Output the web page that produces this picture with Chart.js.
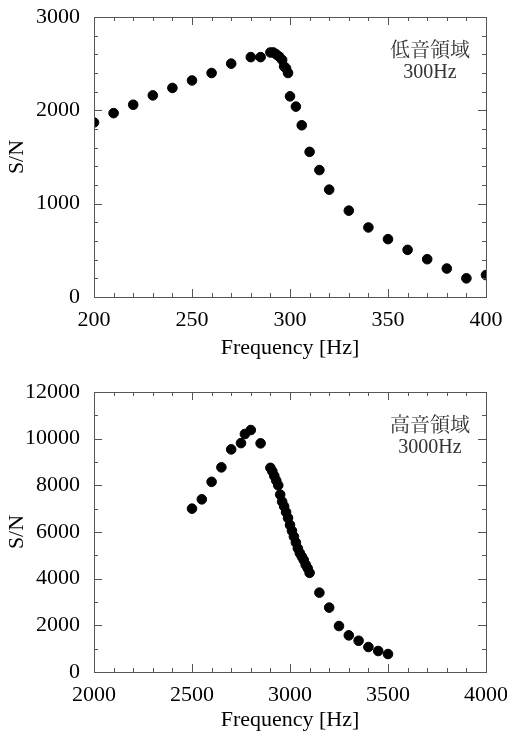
<!DOCTYPE html>
<html>
<head>
<meta charset="utf-8">
<script src="https://cdn.jsdelivr.net/npm/chart.js@4.4.0/dist/chart.umd.min.js"></script>
<style>
  body { margin: 0; background: #fff; }
  canvas { display: block; }
</style>
</head>
<body>
<canvas id="low" width="507" height="367"></canvas>
<canvas id="high" width="507" height="368"></canvas>
<script>
// low-range sweep (300Hz)
const lowFreq = [200, 210, 220, 230, 240, 250, 260, 270, 280, 285, 290, 291.5, 293, 294.5, 296, 297, 298, 299,
  300, 303, 306, 310, 315, 320, 330, 340, 350, 360, 370, 380, 390, 400];
const lowSN = [1870, 1970, 2060, 2160, 2240, 2320, 2400, 2500, 2570, 2570, 2620, 2620, 2600, 2575, 2540, 2470, 2450, 2400,
  2150, 2040, 1840, 1555, 1360, 1150, 925, 745, 620, 505, 405, 305, 200, 235];

// high-range sweep (3000Hz)
const highFreq = [2500, 2550, 2600, 2650, 2700, 2750, 2770, 2800, 2850,
  2900, 2910, 2920, 2930, 2940, 2950, 2960, 2970, 2980, 2990, 3000,
  3010, 3020, 3030, 3040, 3050, 3060, 3070, 3080, 3090, 3100,
  3150, 3200, 3250, 3300, 3350, 3400, 3450, 3500];
const highSN = [7000, 7400, 8150, 8770, 9540, 9810, 10200, 10370, 9800,
  8750, 8600, 8400, 8200, 8000, 7600, 7300, 7100, 6850, 6600, 6300,
  6050, 5800, 5550, 5300, 5100, 4950, 4800, 4600, 4450, 4250,
  3400, 2760, 1970, 1570, 1340, 1070, 900, 770];

const lowXTicks = { min: 200, max: 400, step: 50, minor: 10 };
const lowYTicks = { min: 0, max: 3000, step: 1000, minor: 200 };
const highXTicks = { min: 2000, max: 4000, step: 500, minor: 100 };
const highYTicks = { min: 0, max: 12000, step: 2000, minor: 1000 };

const SERIF = '"Liberation Serif", "Times New Roman", serif';

// frame, inward ticks, axis titles and the note text
const framePlugin = {
  id: 'frame',
  afterDraw(chart, args, opts) {
    const { ctx, chartArea: a, scales: { x, y } } = chart;
    ctx.save();
    ctx.strokeStyle = '#555';
    ctx.lineWidth = 1;
    ctx.strokeRect(a.left + 0.5, a.top + 0.5, a.right - a.left, a.bottom - a.top);
    ctx.beginPath();
    for (let v = opts.xt.min; v <= opts.xt.max; v += opts.xt.minor) {
      const len = v % opts.xt.step === 0 ? 8 : 4;
      const px = Math.round(x.getPixelForValue(v)) + 0.5;
      ctx.moveTo(px, a.bottom); ctx.lineTo(px, a.bottom - len);
      ctx.moveTo(px, a.top); ctx.lineTo(px, a.top + len);
    }
    for (let v = opts.yt.min; v <= opts.yt.max; v += opts.yt.minor) {
      const len = v % opts.yt.step === 0 ? 8 : 4;
      const py = Math.round(y.getPixelForValue(v)) + 0.5;
      ctx.moveTo(a.left, py); ctx.lineTo(a.left + len, py);
      ctx.moveTo(a.right, py); ctx.lineTo(a.right - len, py);
    }
    ctx.stroke();

    ctx.fillStyle = '#000';
    ctx.textAlign = 'center';
    ctx.textBaseline = 'middle';
    ctx.font = '22px ' + SERIF;
    ctx.fillText('Frequency [Hz]', (a.left + a.right) / 2, a.bottom + opts.titleGap);
    ctx.save();
    ctx.translate(17, (a.top + a.bottom) / 2);
    ctx.rotate(-Math.PI / 2);
    ctx.fillText('S/N', 0, 0);
    ctx.restore();

    ctx.fillStyle = '#333';
    ctx.font = '20px ' + SERIF + ', "Noto Serif CJK JP", "Noto Sans CJK JP"';
    ctx.fillText(opts.note[0], 430, a.top + 35);
    ctx.fillText(opts.note[1], 430, a.top + 56);
    ctx.restore();
  }
};

function makeChart(id, xs, ys, xt, yt, top, xHeight, note, titleGap) {
  const points = xs.map((f, i) => ({ x: f, y: ys[i] }));
  const tickFont = { family: SERIF, size: 22 };
  return new Chart(document.getElementById(id), {
    type: 'scatter',
    data: {
      datasets: [{
        data: points,
        backgroundColor: '#000',
        borderColor: '#000',
        pointRadius: 4.8,
        pointHoverRadius: 4.8
      }]
    },
    options: {
      responsive: false,
      animation: false,
      layout: { padding: { left: 0, right: 21, top: top, bottom: 0 } },
      plugins: {
        legend: { display: false },
        tooltip: { enabled: false },
        frame: { xt: xt, yt: yt, note: note, titleGap: titleGap }
      },
      scales: {
        x: {
          type: 'linear',
          min: xt.min, max: xt.max,
          grid: { display: false },
          border: { display: false },
          ticks: { stepSize: xt.step, padding: 2, color: '#000', font: tickFont, maxRotation: 0,
            callback: v => String(v) },
          afterFit(s) { s.height = xHeight; s.paddingLeft = 0; s.paddingRight = 0; }
        },
        y: {
          min: yt.min, max: yt.max,
          grid: { display: false },
          border: { display: false },
          ticks: { stepSize: yt.step, padding: 6, color: '#000', font: tickFont,
            callback: v => String(v) },
          afterFit(s) { s.width = 94; s.paddingTop = 0; s.paddingBottom = 0; }
        }
      }
    },
    plugins: [framePlugin]
  });
}

makeChart('low', lowFreq, lowSN, lowXTicks, lowYTicks, 17, 70, ['低音領域', '300Hz'], 51);
makeChart('high', highFreq, highSN, highXTicks, highYTicks, 25, 63, ['高音領域', '3000Hz'], 48);
</script>
</body>
</html>
